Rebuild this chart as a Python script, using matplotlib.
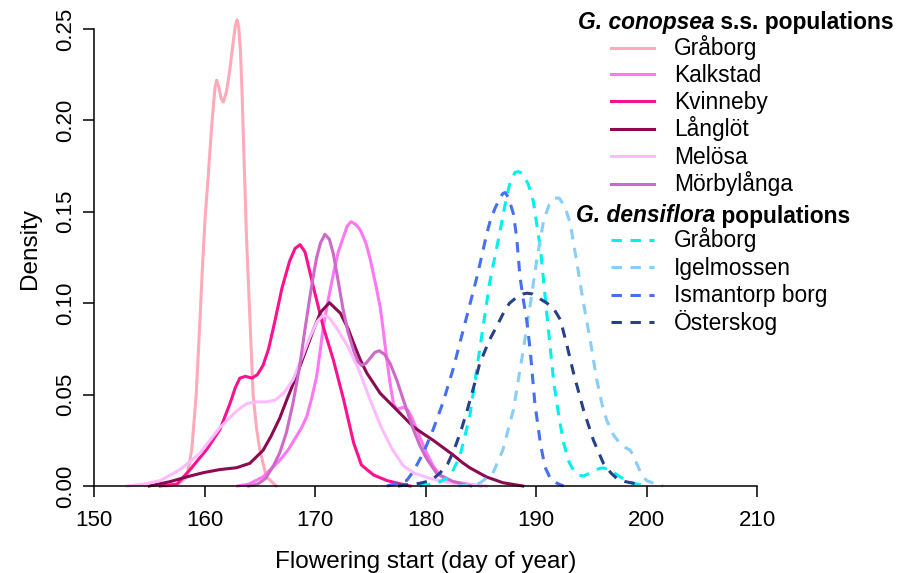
import matplotlib
matplotlib.use("Agg")
import matplotlib.pyplot as plt
from matplotlib.lines import Line2D

plt.rcParams['font.family'] = ['Liberation Sans', 'DejaVu Sans']

# G. conopsea s.s. populations (day of year, density)
con_graborg_x = [156.5, 157.6, 158.4, 158.85, 159.25, 159.6, 159.8, 160.05, 160.4, 160.65, 160.95, 161.1,
                 161.3, 161.5, 161.7, 162.0, 162.3, 162.6, 162.8, 162.95, 163.1, 163.25, 163.4, 163.55,
                 163.8, 164.05, 164.4, 164.7, 165.0, 165.6, 166.5]
con_graborg_y = [0.000, 0.001, 0.005, 0.020, 0.050, 0.092, 0.118, 0.146, 0.175, 0.197, 0.218, 0.222,
                 0.218, 0.212, 0.210, 0.216, 0.228, 0.243, 0.252, 0.255, 0.251, 0.238, 0.215, 0.185,
                 0.136, 0.100, 0.050, 0.032, 0.020, 0.005, 0.000]

kalkstad_x = [163.0, 164.0, 165.3, 166.8, 167.6, 168.3, 168.8, 169.25, 169.7, 170.15, 170.45, 170.75,
              171.2, 171.66, 172.1, 172.56, 172.9, 173.26, 173.7, 174.1, 174.6, 175.0, 175.5, 175.9,
              176.2, 176.5, 176.8, 177.1, 177.4, 177.7, 178.0, 178.4, 178.8, 179.2, 179.6, 180.1,
              180.7, 181.3, 181.9, 183.4, 185.0]
kalkstad_y = [0.000, 0.001, 0.005, 0.014, 0.020, 0.027, 0.032, 0.038, 0.048, 0.060, 0.073, 0.087,
              0.102, 0.116, 0.128, 0.136, 0.142, 0.1446, 0.143, 0.140, 0.133, 0.124, 0.110, 0.098,
              0.084, 0.069, 0.056, 0.045, 0.042, 0.0425, 0.043, 0.0416, 0.037, 0.031, 0.025, 0.018,
              0.011, 0.006, 0.003, 0.0015, 0.000]

kvinneby_x = [156.0, 157.5, 158.7, 160.2, 161.4, 162.3, 162.8, 163.2, 163.7, 164.3, 164.8, 165.3,
              165.8, 166.4, 167.0, 167.7, 168.2, 168.65, 169.1, 169.85, 170.75, 171.66, 172.6, 173.5,
              174.2, 175.3, 176.5, 177.5, 178.6]
kvinneby_y = [0.000, 0.001, 0.009, 0.020, 0.031, 0.045, 0.054, 0.059, 0.060, 0.059, 0.061, 0.066,
              0.075, 0.091, 0.108, 0.123, 0.130, 0.132, 0.128, 0.109, 0.087, 0.069, 0.047, 0.0235,
              0.0115, 0.006, 0.003, 0.0015, 0.000]

langlot_x = [155.0, 156.9, 158.4, 159.9, 161.4, 162.9, 164.1, 165.3, 166.0, 166.8, 167.5, 168.3,
             169.1, 169.85, 170.5, 171.3, 172.3, 173.0, 173.5, 174.1, 174.7, 175.9, 177.4, 178.9,
             179.7, 180.7, 181.6, 182.5, 183.3, 184.0, 185.5, 187.0, 188.8]
langlot_y = [0.000, 0.0024, 0.005, 0.0073, 0.009, 0.010, 0.0124, 0.0195, 0.027, 0.037, 0.048, 0.060,
             0.073, 0.0853, 0.095, 0.1003, 0.0945, 0.086, 0.078, 0.069, 0.0617, 0.0507, 0.0416, 0.0324,
             0.029, 0.025, 0.021, 0.017, 0.013, 0.010, 0.005, 0.0018, 0.000]

melosa_x = [153.0, 154.5, 156.0, 157.8, 159.6, 161.4, 162.9, 163.8, 164.6, 165.6, 166.4, 167.2,
            168.0, 168.8, 169.5, 170.2, 170.75, 171.3, 172.0, 173.0, 174.0, 175.0, 176.0, 177.0,
            178.0, 179.0, 180.5, 182.0, 184.0, 185.5]
melosa_y = [0.000, 0.001, 0.003, 0.009, 0.018, 0.032, 0.041, 0.045, 0.046, 0.046, 0.047, 0.051,
            0.058, 0.070, 0.081, 0.090, 0.0935, 0.092, 0.086, 0.076, 0.063, 0.047, 0.032, 0.020,
            0.011, 0.007, 0.004, 0.002, 0.0007, 0.000]

morbylanga_x = [164.0, 164.8, 165.5, 166.2, 166.8, 167.4, 168.0, 168.6, 169.1, 169.5, 169.85, 170.15,
                170.5, 170.9, 171.3, 171.66, 172.1, 172.56, 173.0, 173.5, 173.9, 174.2, 174.6, 175.0,
                175.4, 175.8, 176.3, 176.8, 177.4, 178.0, 178.9, 179.5, 180.1, 181.0, 182.5, 184.1]
morbylanga_y = [0.000, 0.001, 0.004, 0.0106, 0.018, 0.029, 0.045, 0.065, 0.086, 0.102, 0.115, 0.125,
                0.133, 0.1377, 0.135, 0.127, 0.112, 0.096, 0.084, 0.074, 0.068, 0.066, 0.067, 0.070,
                0.073, 0.074, 0.072, 0.067, 0.058, 0.047, 0.031, 0.022, 0.015, 0.007, 0.0024, 0.000]

# G. densiflora populations
den_graborg_x = [179.5, 181.0, 182.2, 183.1, 184.0, 184.9, 185.8, 186.7, 187.3, 187.65, 188.1, 188.4,
                 188.8, 189.3, 189.75, 190.4, 191.0, 191.6, 192.1, 192.5, 193.0, 193.4, 193.9, 194.3,
                 194.8, 195.3, 195.8, 196.1, 196.5, 197.0, 197.6, 198.2, 198.8, 200.0]
den_graborg_y = [0.000, 0.0015, 0.005, 0.016, 0.038, 0.0745, 0.111, 0.138, 0.157, 0.166, 0.1715, 0.172,
                 0.171, 0.165, 0.156, 0.130, 0.093, 0.057, 0.037, 0.0235, 0.013, 0.0085, 0.0058, 0.0055,
                 0.0068, 0.0085, 0.0097, 0.0098, 0.0093, 0.0075, 0.005, 0.003, 0.0015, 0.000]

igelmossen_x = [183.0, 184.9, 186.1, 187.0, 187.95, 188.85, 189.5, 190.1, 190.7, 191.2, 191.7, 192.1,
                192.6, 193.1, 193.7, 194.3, 194.9, 195.5, 196.0, 196.4, 197.0, 197.6, 198.1, 198.5,
                198.8, 199.1, 199.5, 200.0, 200.9, 201.5]
igelmossen_y = [0.000, 0.0015, 0.007, 0.0197, 0.0416, 0.0745, 0.100, 0.125, 0.1455, 0.154, 0.1575, 0.1575,
                0.153, 0.1437, 0.122, 0.100, 0.080, 0.058, 0.044, 0.036, 0.028, 0.0233, 0.021, 0.0197,
                0.017, 0.0124, 0.007, 0.003, 0.0008, 0.000]

ismantorp_x = [176.5, 178.3, 178.9, 179.8, 180.7, 181.6, 182.5, 183.4, 184.0, 184.6, 185.1, 185.5,
               185.9, 186.3, 186.7, 187.0, 187.2, 187.5, 187.95, 188.25, 188.55, 188.85, 189.2, 189.5,
               189.9, 190.4, 190.8, 191.3, 191.9, 192.5]
ismantorp_y = [0.000, 0.003, 0.008, 0.018, 0.031, 0.046, 0.064, 0.085, 0.099, 0.113, 0.126, 0.137,
               0.146, 0.152, 0.157, 0.160, 0.1605, 0.158, 0.149, 0.136, 0.1145, 0.102, 0.089, 0.0726,
               0.045, 0.0233, 0.0106, 0.004, 0.0015, 0.000]

osterskog_x = [177.5, 179.5, 180.5, 181.3, 182.0, 182.6, 183.2, 183.8, 184.4, 184.9, 185.8, 186.5,
               187.0, 187.6, 188.2, 188.8, 189.2, 189.7, 190.2, 191.0, 191.6, 192.2, 192.8, 193.4,
               194.3, 195.2, 196.1, 196.8, 197.3, 198.0, 198.8, 199.5]
osterskog_y = [0.000, 0.0015, 0.003, 0.007, 0.012, 0.020, 0.030, 0.042, 0.055, 0.067, 0.080, 0.088,
               0.094, 0.100, 0.103, 0.105, 0.1055, 0.105, 0.103, 0.100, 0.097, 0.091, 0.077, 0.0617,
               0.0416, 0.025, 0.0124, 0.007, 0.0042, 0.0025, 0.0015, 0.000]

conopsea = [
    ("Gråborg", con_graborg_x, con_graborg_y, "#FFAAB8"),
    ("Kalkstad", kalkstad_x, kalkstad_y, "#FF77F5"),
    ("Kvinneby", kvinneby_x, kvinneby_y, "#FF1090"),
    ("Långlöt", langlot_x, langlot_y, "#8B0A50"),
    ("Melösa", melosa_x, melosa_y, "#FFBBFF"),
    ("Mörbylånga", morbylanga_x, morbylanga_y, "#CD69C9"),
]
densiflora = [
    ("Gråborg", den_graborg_x, den_graborg_y, "#00F0F0"),
    ("Igelmossen", igelmossen_x, igelmossen_y, "#87CEFA"),
    ("Ismantorp borg", ismantorp_x, ismantorp_y, "#4570F0"),
    ("Österskog", osterskog_x, osterskog_y, "#27408B"),
]

LW = 2.2
DASH = (3.4, 2.8)
FS = 16.4
FS_LAB = 17.5

fig = plt.figure(figsize=(9.09, 5.73), dpi=100)
ax = fig.add_axes([94 / 909, 1 - 486 / 573, (757 - 94) / 909, (486 - 10.7) / 573])

for name, x, y, c in conopsea:
    ax.plot(x, y, color=c, lw=LW, solid_joinstyle='round', clip_on=False)
for name, x, y, c in densiflora:
    ax.plot(x, y, color=c, lw=LW, dashes=DASH, clip_on=False)

ax.set_xlim(150, 210)
ax.set_ylim(0, 0.26)
ax.set_xticks([150, 160, 170, 180, 190, 200, 210])
ax.set_yticks([0, 0.05, 0.10, 0.15, 0.20, 0.25])
ax.set_yticklabels(["0.00", "0.05", "0.10", "0.15", "0.20", "0.25"], rotation=90, va='center')
ax.tick_params(length=8, width=1.1, labelsize=16, pad=5)
ax.tick_params(axis='x', pad=9)
for s in ['top', 'right']:
    ax.spines[s].set_visible(False)
ax.spines['left'].set_bounds(0, 0.25)
ax.spines['bottom'].set_bounds(150, 210)
ax.spines['left'].set_linewidth(1.1)
ax.spines['bottom'].set_linewidth(1.1)
ax.set_xlabel("Flowering start (day of year)", fontsize=FS_LAB, labelpad=15)
ax.set_ylabel("Density", fontsize=FS_LAB, labelpad=10)


def fx(px):
    return px / 909


def fy(py):
    return 1 - py / 573


def header(px, py, first, rest):
    t1 = fig.text(fx(px), fy(py), first, fontsize=FS, fontweight='bold', fontstyle='italic',
                  va='baseline')
    ax.annotate(rest, xy=(1, 0), xycoords=t1, fontsize=FS, fontweight='bold',
                va='bottom', ha='left', annotation_clip=False)


header(578, 29.5, "G. conopsea", " s.s. populations")
rows = [47.7, 74.3, 101.3, 128.8, 156.5, 183.7]
for (name, x, y, c), ry in zip(conopsea, rows):
    fig.add_artist(Line2D([fx(611), fx(654)], [fy(ry), fy(ry)], color=c, lw=LW))
    fig.text(fx(674), fy(ry + 7.5), name, fontsize=FS, va='baseline')

header(576, 222.5, "G. densiflora", " populations")
rows = [239.5, 267.0, 294.5, 322.2]
for (name, x, y, c), ry in zip(densiflora, rows):
    fig.add_artist(Line2D([fx(611), fx(654)], [fy(ry), fy(ry)], color=c, lw=LW, dashes=DASH))
    fig.text(fx(674), fy(ry + 7.5), name, fontsize=FS, va='baseline')

fig.savefig("out.png", dpi=100)
